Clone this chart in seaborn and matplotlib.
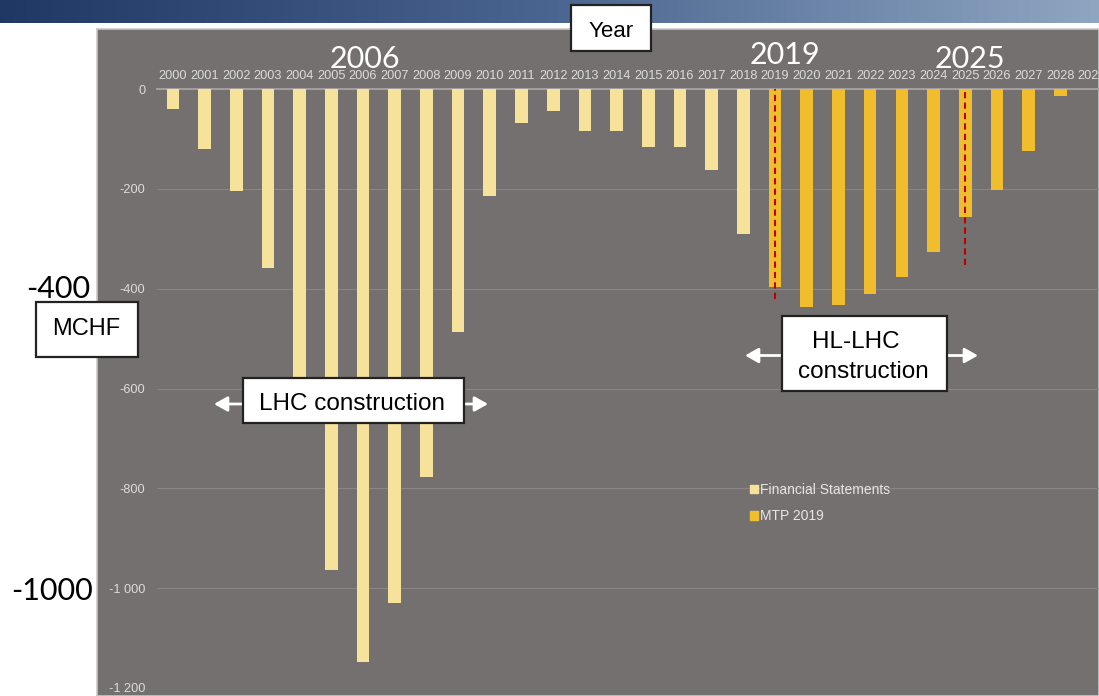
import numpy as np
import pandas as pd
import matplotlib
matplotlib.use("Agg")
import matplotlib.pyplot as plt
import seaborn as sns
from matplotlib.patches import Rectangle, FancyArrowPatch, Patch
from matplotlib.colors import LinearSegmentedColormap

# ---------------- data ----------------
years_fs = ["2000", "2001", "2002", "2003", "2004", "2005", "2006", "2007", "2008", "2009",
            "2010", "2011", "2012", "2013", "2014", "2015", "2016", "2017", "2018"]
values_fs = [-40, -120, -204, -358, -640, -964, -1148, -1030, -778, -486,
             -214, -68, -44, -84, -84, -116, -116, -162, -290]
years_mtp = ["2019", "2020", "2021", "2022", "2023", "2024", "2025", "2026", "2027", "2028"]
values_mtp = [-396, -436, -432, -410, -376, -326, -256, -202, -124, -14]
axis_years = years_fs + years_mtp + ["2029"]
series_names = ["Financial Statements", "MTP 2019"]
ytick_values = [0, -200, -400, -600, -800, -1000, -1200]
ytick_labels = ["0", "-200", "-400", "-600", "-800", "-1 000", "-1 200"]
marker_years = ["2019", "2025"]
marker_depths = [-420, -352]

# ---------------- style ----------------
sns.set_theme(style="white")
plt.rcParams['font.family'] = ['Liberation Sans', 'DejaVu Sans']

C_BG = "#74706F"
C_FS = "#F7E29B"
C_MTP = "#F0BE2D"
C_TICK = "#DCDCDC"

W, H = 1099, 696
fig = plt.figure(figsize=(W / 100, H / 100), dpi=100)
fig.patch.set_facecolor("white")


def fx(x):
    return x / W


def fy(y):
    return 1 - y / H


# header gradient band
hdr = fig.add_axes([0, fy(23), 1, 23 / H])
cmap = LinearSegmentedColormap.from_list("hdr", ["#1F3864", "#4A6590", "#8FA6C1"])
hdr.imshow(np.linspace(0, 1, 512)[None, :], aspect="auto", cmap=cmap, extent=[0, 1, 0, 1])
hdr.set_axis_off()

# chart area background
bg = fig.add_axes([fx(97), 0, 1 - fx(97), fy(29)])
bg.set_facecolor(C_BG)
bg.set_xticks([])
bg.set_yticks([])
for s in bg.spines.values():
    s.set_color("#C8C8C8")
    s.set_linewidth(1.2)
bg.set_zorder(-1)

# main plot axes
ax = fig.add_axes([fx(157), fy(688), 1 - fx(157), (688 - 89) / H])
ax.set_facecolor("none")
ax.set_zorder(1)

df = pd.DataFrame({
    "year": years_fs + years_mtp,
    "value": values_fs + values_mtp,
    "series": [series_names[0]] * len(years_fs) + [series_names[1]] * len(years_mtp),
})
sns.barplot(data=df, x="year", y="value", hue="series", order=axis_years,
            hue_order=series_names, palette=[C_FS, C_MTP], dodge=False, width=0.4,
            saturation=1, ax=ax, legend=False, zorder=3, linewidth=0, edgecolor="none")

ax.set_ylim(-1200, 0)
ax.set_xlim(-0.5, 29.22)
ax.set_yticks(ytick_values, ytick_labels)
ax.yaxis.grid(True, color="#898584", lw=0.8)
ax.xaxis.grid(False)
ax.set_axisbelow(True)
ax.xaxis.tick_top()
ax.tick_params(axis="x", length=0, pad=5, labelsize=9.2, labelcolor=C_TICK)
ax.tick_params(axis="y", length=0, pad=8.5, labelsize=9.2, labelcolor=C_TICK)
for k, s in ax.spines.items():
    s.set_visible(k == "top")
ax.spines["top"].set_color("#A8A4A3")
ax.spines["top"].set_linewidth(1.3)
ax.set_xlabel("")
ax.set_ylabel("")

# red dashed markers
for yr, d in zip(marker_years, marker_depths):
    i = axis_years.index(yr)
    ax.vlines(i, d, 0, colors="#C00000", linestyles=(0, (3, 2)), lw=1.5, zorder=4)

# legend
ax.legend(handles=[Patch(color=C_FS), Patch(color=C_MTP)], labels=series_names,
          loc="upper left", bbox_to_anchor=(fx(750), fy(483)), bbox_transform=fig.transFigure,
          frameon=False, fontsize=10, labelcolor="#E6E6E6", handlelength=0.55,
          handleheight=0.55, handletextpad=0.2, labelspacing=0.9, borderpad=0,
          borderaxespad=0)

# big overlay texts
BIG = dict(fontsize=22, family=["Lato", "DejaVu Sans"], ha="center", va="baseline", zorder=12)
fig.text(fx(364.5), fy(68), "2006", color="white", **BIG)
fig.text(fx(784.5), fy(64), "2019", color="white", **BIG)
fig.text(fx(969.5), fy(68), "2025", color="white", **BIG)
fig.text(fx(58), fy(298), "-400", color="black", **BIG)
fig.text(fx(52), fy(600.5), "-1000", color="black", **BIG)


def box(x0, y0, x1, y1):
    fig.add_artist(Rectangle((fx(x0), fy(y1)), fx(x1) - fx(x0), fy(y0) - fy(y1),
                             transform=fig.transFigure, facecolor="white",
                             edgecolor="#222222", lw=1.6, zorder=10))


def arrow(xs, xt, y):
    fig.add_artist(FancyArrowPatch((fx(xs), fy(y)), (fx(xt), fy(y)),
                                   transform=fig.transFigure,
                                   arrowstyle="-|>,head_length=0.8,head_width=0.45",
                                   mutation_scale=10, color="white", lw=2.0, zorder=9,
                                   shrinkA=0, shrinkB=0))


LBL = dict(color="black", ha="center", va="baseline", zorder=11)

box(571, 5, 651, 51)
fig.text(fx(611), fy(37), "Year", fontsize=16, **LBL)

box(36, 302, 138, 357)
fig.text(fx(86.5), fy(335), "MCHF", fontsize=17, **LBL)

box(243, 378, 464, 423)
fig.text(fx(352), fy(410.5), "LHC construction", fontsize=17.5, **LBL)
arrow(244, 214, 404)
arrow(463, 488, 404)

box(782, 316, 947, 391)
fig.text(fx(855.5), fy(348.5), "HL-LHC", fontsize=17.5, **LBL)
fig.text(fx(863), fy(377.5), "construction", fontsize=17.5, **LBL)
arrow(783, 745, 355.5)
arrow(946, 978, 355.5)

fig.savefig("out.png", dpi=100)
